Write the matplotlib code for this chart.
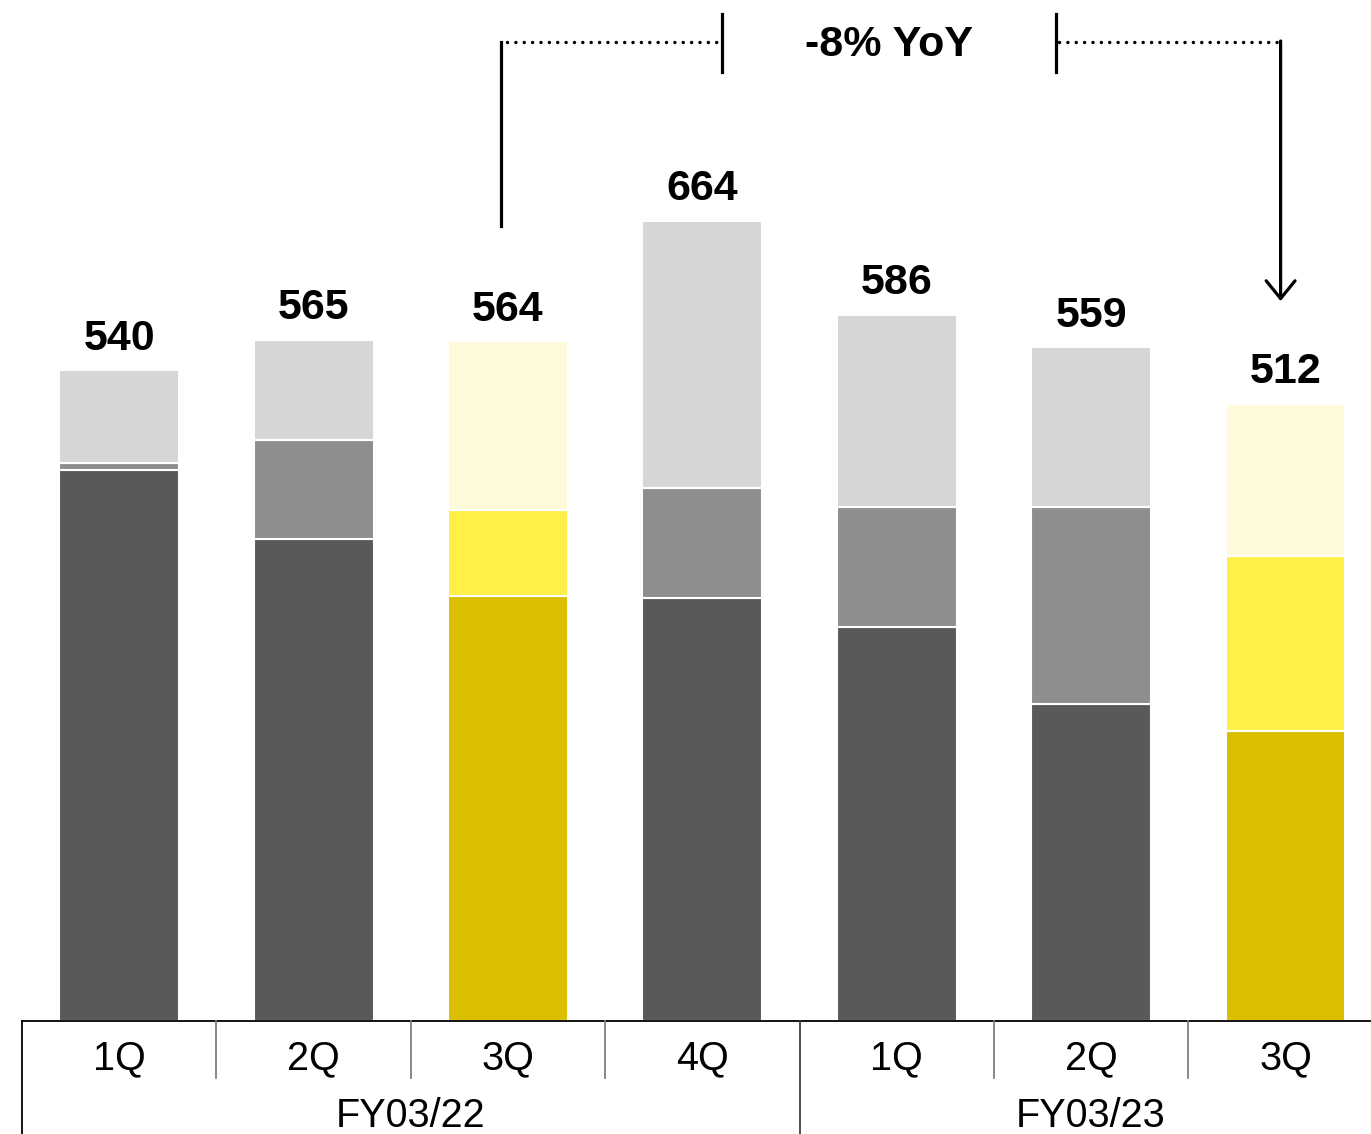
import numpy as np
import matplotlib
matplotlib.use("Agg")
from matplotlib import pyplot as plt

plt.rcParams['font.family'] = ['Liberation Sans', 'DejaVu Sans']

# quarterly data
quarters = ['1Q', '2Q', '3Q', '4Q', '1Q', '2Q', '3Q']
years = ['FY03/22', 'FY03/23']
totals = [540, 565, 564, 664, 586, 559, 512]
seg_bottom = [457, 400, 353, 351, 327, 263, 241]
seg_middle = [6, 82, 71, 91, 100, 164, 145]
seg_top = [77, 83, 140, 222, 159, 132, 126]
yoy_text = '-8% YoY'

# colours: grey for most quarters, yellow for the compared ones
grey = ['#595959', '#8e8e8e', '#d6d6d6']
yellow = ['#d9bf00', '#fff048', '#fef9d8']
highlight = [2, 6]

fig = plt.figure(figsize=(13.71, 11.34), dpi=100)
ax = fig.add_axes([22/1371, 1 - 1021/1134, 1 - 22/1371, 1021/1134])

x = np.arange(len(totals))
w = 0.617
for i in x:
    cols = yellow if i in highlight else grey
    b0 = 0
    for val, c in zip([seg_bottom[i], seg_middle[i], seg_top[i]], cols):
        ax.bar(i, val, w, bottom=b0, color=c, edgecolor='white', linewidth=1.5)
        b0 += val
    ax.annotate(str(totals[i]), (i, totals[i]), xytext=(0, 15),
                textcoords='offset points', ha='center', va='baseline',
                fontsize=31, fontweight='bold')

ax.set_xlim(-0.5, 6.44)
ax.set_ylim(0, 847.4)
ax.axis('off')

# category table under the bars
tr = ax.get_xaxis_transform()
ax.plot([-0.5, 6.44], [0, 0], transform=tr, color='black', lw=1.3, clip_on=False)
ax.plot([-0.5, -0.5], [0, -0.111], transform=tr, color='black', lw=1.3, clip_on=False)
for s in [0.5, 1.5, 2.5, 4.5, 5.5]:
    ax.plot([s, s], [0, -0.056], transform=tr, color='#7f7f7f', lw=1.3, clip_on=False)
ax.plot([3.5, 3.5], [0, -0.111], transform=tr, color='#404040', lw=1.3, clip_on=False)
for i, q in enumerate(quarters):
    ax.text(i, -0.037, q, transform=tr, ha='center', va='center', fontsize=28.5)
ax.text(1.5, -0.093, years[0], transform=tr, ha='center', va='center', fontsize=28.5)
ax.text(5.0, -0.093, years[1], transform=tr, ha='center', va='center', fontsize=28.5)

# YoY bracket between 3Q FY03/22 and 3Q FY03/23
xl, xr = 1.965, 5.975
yl = 812.4
kw = dict(color='black', lw=2.3, clip_on=False)
dots = dict(color='black', lw=2.5, linestyle=(0, (0.01, 2.4)),
            dash_capstyle='round', clip_on=False)
ax.plot([xl, xl], [659.8, yl], **kw)
ax.plot([xl + 0.03, 3.08], [yl, yl], **dots)
ax.plot([3.103, 3.103], [787.5, 835.7], **kw)
ax.plot([4.817, 4.817], [787.5, 835.7], **kw)
ax.plot([4.835, xr], [yl, yl], **dots)
ax.annotate('', xy=(xr, 597.5), xytext=(xr, yl + 1),
            arrowprops=dict(arrowstyle='->, head_length=0.32, head_width=0.26',
                            lw=2.3, color='black', mutation_scale=40,
                            shrinkA=0, shrinkB=0),
            annotation_clip=False)
ax.text(3.958, yl - 2, yoy_text, ha='center', va='center', fontsize=31, fontweight='bold')

fig.savefig('out.png', dpi=100)
